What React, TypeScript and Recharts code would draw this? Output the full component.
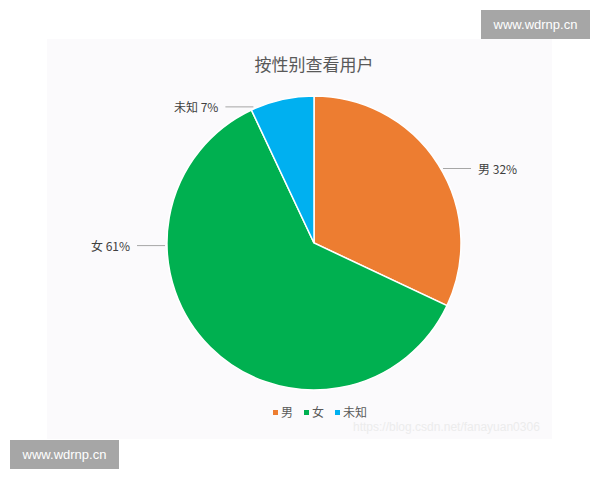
import React from 'react';
import { PieChart, Pie, Cell } from 'recharts';

const categories = ['男', '女', '未知'];
const values = [32, 61, 7];
const percentLabels = ['32%', '61%', '7%'];
const colors = ['#ED7D31', '#00B050', '#00B0F0'];
const title = '按性别查看用户';

const data = categories.map((name, i) => ({ name, value: values[i], pct: percentLabels[i] }));

// angle (deg, counter-clockwise from +x) on the rim where each leader line starts
const LABEL_ANGLES = [30, 181, 114];
const FONT = '"Noto Sans CJK SC", "Noto Sans", sans-serif';

const renderLabel = (props: any) => {
  const { cx, cy, outerRadius, index } = props;
  const a = (LABEL_ANGLES[index] * Math.PI) / 180;
  const r = outerRadius + 2;
  const x0 = cx + r * Math.cos(a);
  const y0 = cy - r * Math.sin(a);
  const dir = Math.cos(a) >= 0 ? 1 : -1;
  const x1 = x0 + dir * 28;
  const tx = x1 + dir * 7;
  const d = data[index];
  return (
    <g key={`lbl-${index}`}>
      <line x1={x0} y1={y0} x2={x1} y2={y0} stroke="#a6a6a6" strokeWidth={1} />
      <text
        x={tx}
        y={y0}
        textAnchor={dir > 0 ? 'start' : 'end'}
        dominantBaseline="central"
        fill="#404040"
        fontSize={12}
        fontFamily={FONT}
      >
        {`${d.name} ${d.pct}`}
      </text>
    </g>
  );
};

export default function App() {
  return (
    <div style={{ position: 'absolute', left: 0, top: 0, width: 600, height: 480, background: '#fff', fontFamily: FONT }}>
      <div style={{ position: 'absolute', left: 47, top: 39, width: 505, height: 400, background: '#fbfafc' }} />
      <div
        style={{
          position: 'absolute',
          left: 214,
          width: 200,
          top: 52,
          textAlign: 'center',
          fontSize: 17,
          color: '#595959',
          lineHeight: '24px',
        }}
      >
        {title}
      </div>
      <div style={{ position: 'absolute', left: 0, top: 0 }}>
        <PieChart width={600} height={480} margin={{ top: 0, right: 0, bottom: 0, left: 0 }}>
          <Pie
            data={data}
            dataKey="value"
            nameKey="name"
            cx={314}
            cy={243}
            outerRadius={147}
            startAngle={90}
            endAngle={-270}
            stroke="#ffffff"
            strokeWidth={1.5}
            label={renderLabel}
            labelLine={false}
            isAnimationActive={false}
          >
            {data.map((d, i) => (
              <Cell key={d.name} fill={colors[i]} />
            ))}
          </Pie>
        </PieChart>
      </div>
      <div
        style={{
          position: 'absolute',
          left: 273,
          top: 405,
          display: 'flex',
          alignItems: 'center',
          fontSize: 12,
          color: '#595959',
          lineHeight: '14px',
          whiteSpace: 'nowrap',
        }}
      >
        {data.map((d, i) => (
          <span key={d.name} style={{ display: 'inline-flex', alignItems: 'center', marginRight: i < data.length - 1 ? 11 : 0 }}>
            <span style={{ width: 5, height: 5, background: colors[i], marginRight: 3, display: 'inline-block' }} />
            {d.name}
          </span>
        ))}
      </div>
      <div style={{ position: 'absolute', left: 353, top: 420, fontSize: 12, lineHeight: '14px', color: '#ececec', fontFamily: '"Liberation Sans", sans-serif', whiteSpace: 'nowrap' }}>
        https://blog.csdn.net/fanayuan0306
      </div>
      <div
        style={{
          position: 'absolute', left: 481, top: 10, width: 109, height: 29, background: '#a6a6a6', color: '#fff',
          fontSize: 13, display: 'flex', alignItems: 'center', justifyContent: 'center', fontFamily: '"Liberation Sans", sans-serif',
        }}
      >
        www.wdrnp.cn
      </div>
      <div
        style={{
          position: 'absolute', left: 10, top: 440, width: 109, height: 29, background: '#a6a6a6', color: '#fff',
          fontSize: 13, display: 'flex', alignItems: 'center', justifyContent: 'center', fontFamily: '"Liberation Sans", sans-serif',
        }}
      >
        www.wdrnp.cn
      </div>
    </div>
  );
}
